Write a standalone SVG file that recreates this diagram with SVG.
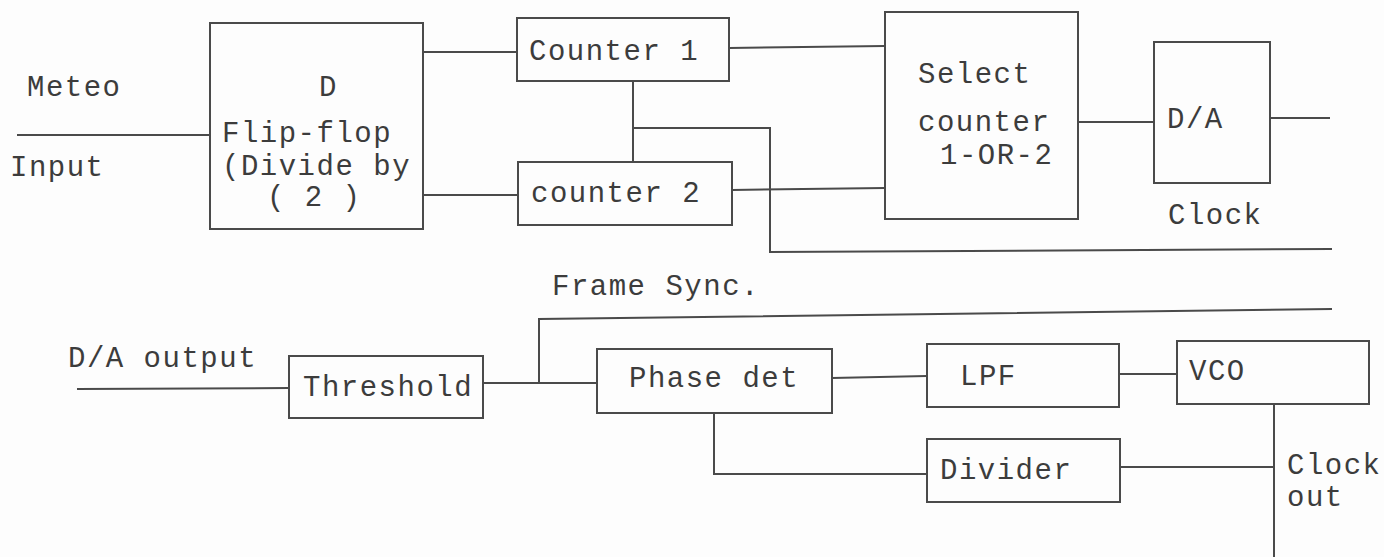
<svg xmlns="http://www.w3.org/2000/svg" width="1384" height="557" viewBox="0 0 1384 557">
<style>
.box{fill:none;stroke:#4a4a4a;stroke-width:2}
.ln{fill:none;stroke:#4a4a4a;stroke-width:2}
text{font-family:"Liberation Mono","Courier New",monospace;font-size:29px;letter-spacing:1.5px;fill:#3c3c3c}
</style>
<rect width="1384" height="557" fill="#fdfdfd"/>
<g id="connectors">
<path class="ln" d="M17,135 H210"/>
<path class="ln" d="M423,52 H517"/>
<path class="ln" d="M423,195 H518"/>
<path class="ln" d="M633,81 V162"/>
<path class="ln" d="M633,128 H770 V252 L1332,249"/>
<path class="ln" d="M729,48 L885,46"/>
<path class="ln" d="M732,190 L885,188"/>
<path class="ln" d="M1078,122 H1154"/>
<path class="ln" d="M1270,118 H1330"/>
<path class="ln" d="M77,389 L289,388"/>
<path class="ln" d="M483,383 H597"/>
<path class="ln" d="M539,383 V319 L1332,309"/>
<path class="ln" d="M832,378 L927,376"/>
<path class="ln" d="M1119,374 H1177"/>
<path class="ln" d="M714,413 V474 H927"/>
<path class="ln" d="M1120,467 H1274"/>
<path class="ln" d="M1274,404 V557"/>
</g>
<g id="meteo-input">
<text x="27" y="96">Meteo</text>
<text x="10" y="176">Input</text>
</g>
<g id="flipflop">
<rect class="box" x="210" y="23" width="213" height="206"/>
<text x="319" y="96">D</text>
<text x="222" y="142">Flip-flop</text>
<text x="222" y="175">(Divide by</text>
<text x="267" y="206">( 2 )</text>
</g>
<g id="counter1">
<rect class="box" x="517" y="18" width="212" height="63"/>
<text x="529" y="60">Counter 1</text>
</g>
<g id="counter2">
<rect class="box" x="518" y="162" width="214" height="63"/>
<text x="531" y="202">counter 2</text>
</g>
<g id="select">
<rect class="box" x="885" y="12" width="193" height="207"/>
<text x="918" y="83">Select</text>
<text x="918" y="131">counter</text>
<text x="940" y="164">1-OR-2</text>
</g>
<g id="da">
<rect class="box" x="1154" y="42" width="116" height="141"/>
<text x="1167" y="128">D/A</text>
</g>
<g id="clock-label">
<text x="1168" y="224">Clock</text>
</g>
<g id="frame-sync-label">
<text x="552" y="295">Frame Sync.</text>
</g>
<g id="da-output-label">
<text x="68" y="367">D/A output</text>
</g>
<g id="threshold">
<rect class="box" x="289" y="356" width="194" height="62"/>
<text x="303" y="396">Threshold</text>
</g>
<g id="phasedet">
<rect class="box" x="597" y="349" width="235" height="64"/>
<text x="629" y="387">Phase det</text>
</g>
<g id="lpf">
<rect class="box" x="927" y="344" width="192" height="63"/>
<text x="960" y="385">LPF</text>
</g>
<g id="vco">
<rect class="box" x="1177" y="341" width="192" height="63"/>
<text x="1189" y="380">VCO</text>
</g>
<g id="divider">
<rect class="box" x="927" y="439" width="193" height="63"/>
<text x="940" y="479">Divider</text>
</g>
<g id="clock-out-label">
<text x="1287" y="474">Clock</text>
<text x="1287" y="506">out</text>
</g>
</svg>
